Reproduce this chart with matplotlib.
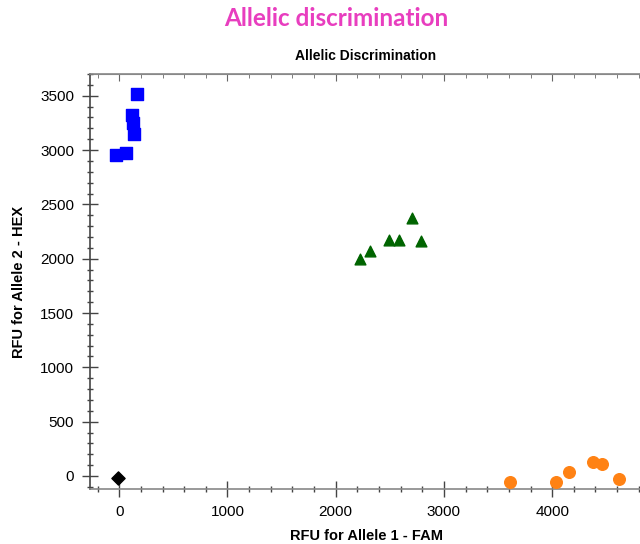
import matplotlib.pyplot as plt
from matplotlib.ticker import MultipleLocator

plt.rcParams['font.family'] = ['Liberation Sans', 'DejaVu Sans']

# allele 2 (HEX) cluster
hex_x = [-28, 62, 120, 129, 141, 166]
hex_y = [2950, 2972, 3325, 3247, 3150, 3520]
# heterozygotes
het_x = [2225, 2315, 2495, 2582, 2705, 2788]
het_y = [2001, 2068, 2169, 2175, 2378, 2163]
# allele 1 (FAM) cluster
fam_x = [3610, 4035, 4158, 4380, 4460, 4620]
fam_y = [-52, -55, 37, 131, 107, -28]
# no template control
ntc_x = [-12]
ntc_y = [-21]

fig = plt.figure(figsize=(6.4, 5.44), dpi=100)
ax = fig.add_axes([90 / 640, 55 / 544, 552 / 640, 415 / 544])

ax.scatter(hex_x, hex_y, marker='s', s=70, color='#0000FF', zorder=3)
ax.scatter(het_x, het_y, marker='^', s=60, color='#006400', zorder=3)
ax.scatter(fam_x, fam_y, marker='o', s=70, color='#FF8214', zorder=3)
ax.scatter(ntc_x, ntc_y, marker='D', s=45, color='black', zorder=3)

ax.set_xlim(-270, 4830)
ax.set_ylim(-120, 3700)

ax.xaxis.set_major_locator(MultipleLocator(1000))
ax.xaxis.set_minor_locator(MultipleLocator(200))
ax.yaxis.set_major_locator(MultipleLocator(500))
ax.yaxis.set_minor_locator(MultipleLocator(100))

ax.tick_params(which='major', direction='inout', length=11, width=1, color='#444444', labelsize=11, pad=6)
ax.tick_params(which='minor', direction='inout', length=5, width=1, color='#444444')
ax.tick_params(axis='y', pad=6)

for s in ['bottom', 'left', 'top']:
    ax.spines[s].set_color('#888888')
    ax.spines[s].set_linewidth(1.2)
ax.spines['left'].set_color('#444444')
ax.spines['right'].set_visible(False)

top = ax.secondary_xaxis('top')
top.xaxis.set_major_locator(MultipleLocator(1000))
top.xaxis.set_minor_locator(MultipleLocator(200))
top.tick_params(which='major', direction='in', length=5, color='#666666', labeltop=False)
top.tick_params(which='minor', direction='in', length=3, color='#666666')
top.spines['top'].set_color('#888888')

ax.set_xlabel('RFU for Allele 1 - FAM', fontsize=10.5, fontweight='bold', labelpad=7)
ax.set_ylabel('RFU for Allele 2 - HEX', fontsize=10.5, fontweight='bold', labelpad=10)
ax.set_title('Allelic Discrimination', fontsize=10, fontweight='bold', pad=10)

fig.text(336 / 640, 1 - 18 / 544, 'Allelic discrimination', ha='center', va='center',
         fontsize=17.5, fontweight='bold', color='#E83EBF', family=['Lato', 'DejaVu Sans'])

fig.savefig('out.png', dpi=100)
